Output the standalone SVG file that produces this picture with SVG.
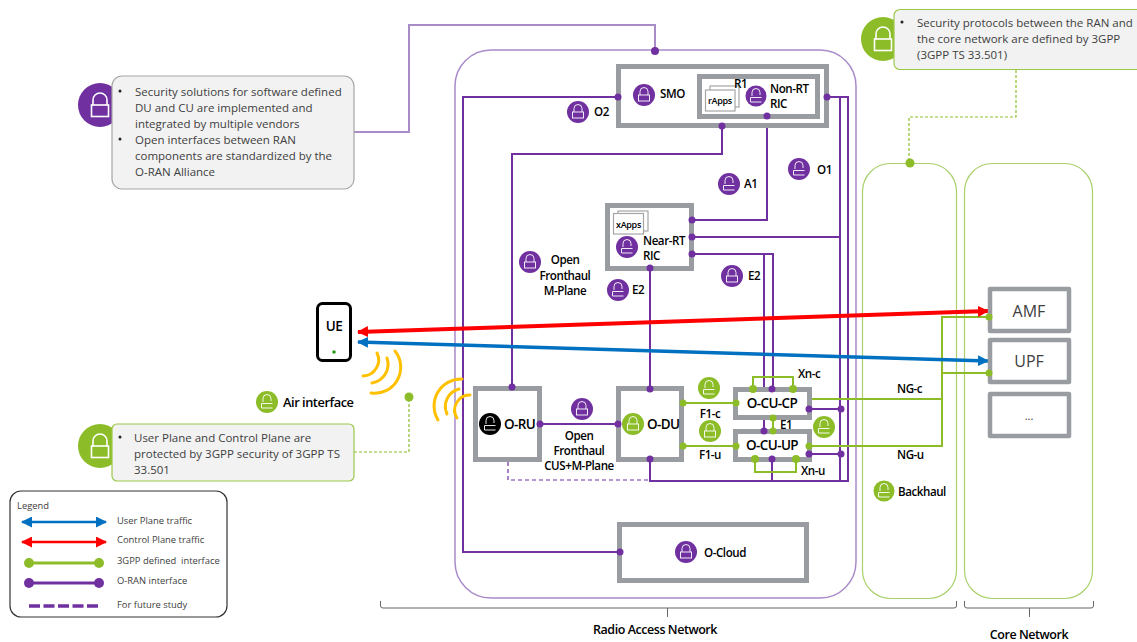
<svg xmlns="http://www.w3.org/2000/svg" width="1137" height="642" viewBox="0 0 1137 642">
<style>
text{font-family:"Open Sans","Noto Sans","Liberation Sans",sans-serif;fill:#000}
.lb{font-size:11.6px;font-weight:600;letter-spacing:-.45px}
.ce{text-anchor:middle}
.n{font-size:13.5px;font-weight:600;letter-spacing:-.6px}
.call{font-size:11.5px;fill:#404040}
.leg{font-size:9.4px;fill:#404040;white-space:pre}
.core{font-size:16px;fill:#404040;text-anchor:middle}
.box{fill:#fff;stroke:#999da1;stroke-width:5}
.core-box{fill:#fff;stroke:#999da1;stroke-width:4.5;stroke-linejoin:round}
.app{fill:#fff;stroke:#a6a6a6;stroke-width:1.2}
.p{fill:none;stroke:#7030a0;stroke-width:2}
.g{fill:none;stroke:#8cbd28;stroke-width:2}
.pd{fill:#7030a0}
.gd{fill:#8cbd28}
.dg{fill:none;stroke:#8cbd28;stroke-width:1.2;stroke-dasharray:3 2}
.w{fill:none;stroke:#ffc000;stroke-width:3;stroke-linecap:round}
.lk{fill:none;stroke:#fff;stroke-width:.9}
.lkb{fill:none;stroke:#fff;stroke-width:1.6}
</style>
<defs>
<marker id="ar" markerWidth="11" markerHeight="11" refX="10" refY="5.500" orient="auto-start-reverse" markerUnits="userSpaceOnUse"><path d="M0 0L11 5.500L0 11Z" fill="#ff0000"/></marker>
<marker id="ab" markerWidth="11" markerHeight="11" refX="10" refY="5.500" orient="auto-start-reverse" markerUnits="userSpaceOnUse"><path d="M0 0L11 5.500L0 11Z" fill="#0070c0"/></marker>
<g id="lock"><path class="lk" d="M-4 0V-3.500A4 4 0 0 1 4 -3.500V0"/><rect class="lk" x="-5.500" y="0" width="11" height="6"/></g>
<g id="lockopen"><path class="lk" d="M-4 0V-3.500A4 4 0 0 1 4 -3.500V-1"/><path class="lk" d="M-5.500 1.500V6H5.500"/><path class="lk" d="M-5.500 1.500H5.500"/></g>
<g id="biglock"><path class="lkb" d="M-7 0V-5A7 7 0 0 1 7 -5V0"/><rect class="lkb" x="-8.500" y="0" width="17" height="11.500"/></g>
</defs>

<g id="ran-region"><rect x="455" y="50" width="401" height="548" rx="36" fill="none" stroke="#a98bc9" stroke-width="1.5"/></g>
<g id="backhaul-region"><rect x="862.500" y="163.500" width="94" height="435" rx="28" fill="none" stroke="#a9d06a" stroke-width="1.2"/></g>
<g id="core-region"><rect x="964.500" y="163.500" width="128" height="435" rx="28" fill="none" stroke="#a9d06a" stroke-width="1.2"/></g>

<g id="connectors">
<path class="p" style="stroke:#a98bc9" d="M354 132H409V25H655V50"/>
<path class="p" d="M618 97H463V552H620"/>
<path class="p" d="M722 126V154H512V387"/>
<path class="p" d="M767 116V220H692"/>
<path class="p" d="M827 97H848V481H650V459"/>
<path class="p" d="M840 97V481"/>
<path class="p" d="M692 237H840"/>
<path class="p" d="M692 254H773V389"/>
<path class="p" d="M764 254V431"/>
<path class="p" d="M650 268V389"/>
<path class="p" d="M540 424H618"/>
<path class="p" d="M772 459V481"/>
<path class="p" d="M809 409H841"/>
<path class="p" d="M809 454H841"/>
<path class="p" style="stroke-width:1.2;stroke-dasharray:4 3" d="M508 462V480H648"/>
<path class="g" d="M683 403H736"/>
<path class="g" d="M683 446H736"/>
<path class="g" d="M753 389V377H793V389"/>
<path class="g" d="M755 459V472H796V459"/>
<path class="g" d="M773 418V431"/>
<path class="g" d="M809 399H942V317H989"/>
<path class="g" d="M809 446H942V373"/>
<path class="g" d="M942 373H989"/>
<path class="dg" d="M354 452H409V397"/>
<path class="dg" d="M1016 70V117H909V163"/>
<line x1="358" y1="331.900" x2="988" y2="311.100" stroke="#ff0000" stroke-width="4" marker-start="url(#ar)" marker-end="url(#ar)"/>
<line x1="358" y1="342" x2="988" y2="361" stroke="#0070c0" stroke-width="3.500" marker-start="url(#ab)" marker-end="url(#ab)"/>
</g>

<g id="wireless">
<path class="w" d="M377 353A16 16 0 0 1 363 376"/>
<path class="w" d="M387 358A19 19 0 0 1 372 383"/>
<path class="w" d="M395 351A26 26 0 0 1 371 393"/>
<path class="w" d="M462 379A27 27 0 0 0 438 420"/>
<path class="w" d="M459 389A18 18 0 0 0 447 414"/>
<path class="w" d="M470 395A15 15 0 0 0 457 418"/>
</g>

<g id="callout-sw">
<circle cx="100" cy="105" r="22" fill="#7030a0"/><use href="#biglock" x="100" y="105"/>
<rect x="112" y="76" width="242" height="113" rx="10" fill="#f2f2f2" stroke="#a6a6a6" stroke-width="1.2"/>
<circle cx="120" cy="91" r="1.500" fill="#222"/><circle cx="120" cy="139" r="1.500" fill="#222"/>
<text class="call" x="135" y="96">Security solutions for software defined</text>
<text class="call" x="135" y="112">DU and CU are implemented and</text>
<text class="call" x="135" y="128">integrated by multiple vendors</text>
<text class="call" x="135" y="144">Open interfaces between RAN</text>
<text class="call" x="135" y="160">components are standardized by the</text>
<text class="call" x="135" y="176">O-RAN Alliance</text>
</g>
<g id="callout-core">
<circle cx="883" cy="39" r="22" fill="#8cbd28"/><use href="#biglock" x="883" y="39"/>
<rect x="894" y="9.500" width="250" height="60" rx="6" fill="#f2f2f2" stroke="#9cc84a" stroke-width="1.2"/>
<circle cx="902" cy="22" r="1.500" fill="#222"/>
<text class="call" x="917" y="27">Security protocols between the RAN and</text>
<text class="call" x="917" y="43">the core network are defined by 3GPP</text>
<text class="call" x="917" y="59">(3GPP TS 33.501)</text>
</g>
<g id="callout-air">
<circle cx="100" cy="446" r="22" fill="#8cbd28"/><use href="#biglock" x="100" y="446"/>
<rect x="112" y="424" width="242" height="57" rx="5" fill="#f2f2f2" stroke="#9cc84a" stroke-width="1.2"/>
<circle cx="120" cy="437" r="1.500" fill="#222"/>
<text class="call" x="134" y="442">User Plane and Control Plane are</text>
<text class="call" x="134" y="458">protected by 3GPP security of 3GPP TS</text>
<text class="call" x="134" y="474">33.501</text>
</g>

<g id="smo">
<rect class="box" x="618.500" y="66.500" width="208" height="59"/>
<circle class="pd" cx="644" cy="95" r="11"/><use href="#lock" x="644" y="95"/>
<text class="lb" x="660" y="98">SMO</text>
</g>
<g id="non-rt-ric">
<rect class="box" x="699.500" y="76.500" width="118" height="40"/>
<rect class="app" x="710" y="86" width="29" height="21"/>
<rect class="app" x="705.500" y="90" width="29.500" height="21"/>
<text class="ce" x="720" y="104" style="font-size:9px;font-weight:600;letter-spacing:-.3px">rApps</text>
<text class="lb" x="734" y="88">R1</text>
<circle class="pd" cx="756" cy="96" r="10.500"/><use href="#lockopen" x="756" y="96"/>
<text class="lb" x="770" y="93">Non-RT</text><text class="lb" x="770" y="108">RIC</text>
</g>
<g id="near-rt-ric">
<rect class="box" x="607.500" y="205.500" width="84" height="63"/>
<rect class="app" x="618" y="211" width="30" height="20"/>
<rect class="app" x="613.500" y="213.500" width="30" height="20.500"/>
<text class="ce" x="628.500" y="228" style="font-size:9px;font-weight:600;letter-spacing:-.3px">xApps</text>
<circle class="pd" cx="627" cy="247" r="11"/><use href="#lockopen" x="627" y="247"/>
<text class="lb" x="643" y="245">Near-RT</text><text class="lb" x="643" y="260">RIC</text>
</g>
<g id="o-ru">
<rect class="box" x="475.500" y="388.500" width="64" height="71"/>
<circle cx="490" cy="424" r="11" fill="#000"/><use href="#lockopen" x="490" y="424"/>
<text class="n" x="504" y="429">O-RU</text>
</g>
<g id="o-du">
<rect class="box" x="618.500" y="388.500" width="63" height="71"/>
<circle class="gd" cx="633" cy="424" r="11"/><use href="#lock" x="633" y="424"/>
<text class="n" x="647" y="429">O-DU</text>
</g>
<g id="o-cu-cp">
<rect class="box" x="735.500" y="389.500" width="74" height="28"/>
<text class="n ce" x="772" y="408">O-CU-CP</text>
</g>
<g id="o-cu-up">
<rect class="box" x="735.500" y="431.500" width="74" height="28"/>
<text class="n ce" x="772" y="450">O-CU-UP</text>
</g>
<g id="o-cloud">
<rect class="box" x="619.500" y="524.500" width="187" height="56"/>
<circle class="pd" cx="686" cy="552" r="11"/><use href="#lock" x="686" y="552"/>
<text class="lb" x="704" y="557">O-Cloud</text>
</g>
<g id="amf"><rect class="core-box" x="990" y="289" width="79" height="42"/><text class="core" x="1029" y="317">AMF</text></g>
<g id="upf"><rect class="core-box" x="990" y="340" width="79" height="42"/><text class="core" x="1029" y="367">UPF</text></g>
<g id="other-nf"><rect class="core-box" x="990" y="394" width="79" height="42"/><text class="ce" x="1029" y="420" style="font-size:11px;fill:#404040">...</text></g>
<g id="ue">
<rect x="317.500" y="303.500" width="33" height="57" rx="5" fill="#fff" stroke="#000" stroke-width="3"/>
<text class="n ce" x="334" y="331">UE</text>
<circle cx="334" cy="352" r="1.800" fill="#2e9a1c"/>
</g>

<g id="connector-ends">
<g class="pd">
<circle cx="655" cy="51" r="4"/><circle cx="618" cy="97" r="3.500"/><circle cx="620" cy="552" r="3.500"/>
<circle cx="722" cy="126" r="3.500"/><circle cx="512" cy="387" r="3.500"/><circle cx="767" cy="116" r="3.500"/>
<circle cx="692" cy="220" r="3.500"/><circle cx="827" cy="97" r="3.500"/><circle cx="692" cy="237" r="3.500"/>
<circle cx="692" cy="254" r="3.500"/><circle cx="772" cy="389" r="3.500"/><circle cx="764" cy="431" r="3.500"/>
<circle cx="650" cy="268" r="3.500"/><circle cx="650" cy="389" r="3.500"/><circle cx="540" cy="424" r="3.500"/>
<circle cx="618" cy="424" r="3.500"/><circle cx="650" cy="459" r="3.500"/><circle cx="772" cy="459" r="3.500"/>
<circle cx="809" cy="409" r="3.500"/><circle cx="841" cy="409" r="3.500"/><circle cx="809" cy="454" r="3.500"/><circle cx="841" cy="454" r="3.500"/>
</g>
<g class="gd">
<circle cx="683" cy="403" r="3.500"/><circle cx="736" cy="403" r="3.500"/><circle cx="683" cy="446" r="3.500"/><circle cx="736" cy="446" r="3.500"/>
<circle cx="753" cy="389" r="4"/><circle cx="793" cy="389" r="4"/><circle cx="755" cy="459" r="4"/><circle cx="796" cy="459" r="4"/>
<circle cx="773" cy="418" r="3.500"/><circle cx="773" cy="431" r="3.500"/><circle cx="809" cy="446" r="3.500"/>
<circle cx="989" cy="317" r="3.500"/><circle cx="989" cy="373" r="3.500"/>
<circle cx="409" cy="397" r="4.500"/><circle cx="910" cy="163" r="4.500"/>
</g>
</g>

<g id="interface-labels">
<circle class="pd" cx="578" cy="112" r="11"/><use href="#lock" x="578" y="112"/><text class="lb" x="594" y="116">O2</text>
<circle class="pd" cx="729" cy="184" r="11"/><use href="#lockopen" x="729" y="184"/><text class="lb" x="744" y="188">A1</text>
<circle class="pd" cx="799" cy="169" r="11"/><use href="#lockopen" x="799" y="169"/><text class="lb" x="817" y="174">O1</text>
<circle class="pd" cx="530" cy="262" r="11"/><use href="#lock" x="530" y="262"/>
<text class="lb ce" x="565" y="264">Open</text><text class="lb ce" x="565" y="280">Fronthaul</text><text class="lb ce" x="565" y="295">M-Plane</text>
<circle class="pd" cx="618" cy="290" r="11"/><use href="#lockopen" x="618" y="290"/><text class="lb" x="632" y="294">E2</text>
<circle class="pd" cx="732" cy="276" r="11"/><use href="#lock" x="732" y="276"/><text class="lb" x="748" y="280">E2</text>
<circle class="pd" cx="582" cy="409" r="11"/><use href="#lock" x="582" y="409"/>
<text class="lb ce" x="579" y="440">Open</text><text class="lb ce" x="579" y="455">Fronthaul</text><text class="lb ce" x="579" y="470">CUS+M-Plane</text>
<circle class="gd" cx="709" cy="388" r="11"/><use href="#lockopen" x="709" y="388"/><text class="lb ce" x="710" y="418">F1-c</text>
<circle class="gd" cx="710" cy="431" r="11"/><use href="#lock" x="710" y="431"/><text class="lb ce" x="710" y="459">F1-u</text>
<text class="lb" x="780" y="429">E1</text>
<circle class="gd" cx="824" cy="427" r="11"/><use href="#lockopen" x="824" y="427"/>
<text class="lb" x="798" y="378">Xn-c</text><text class="lb" x="801" y="475">Xn-u</text>
<text class="lb" x="897" y="393">NG-c</text><text class="lb" x="897" y="459">NG-u</text>
<circle class="gd" cx="884" cy="491" r="10.500"/><use href="#lockopen" x="884" y="491"/><text class="lb" x="898" y="496">Backhaul</text>
<circle class="gd" cx="267" cy="402" r="11"/><use href="#lockopen" x="267" y="402"/><text class="lb" x="283" y="407" style="font-size:12.800px">Air interface</text>
</g>

<g id="brackets" fill="none" stroke="#666" stroke-width="1">
<path d="M380.500 601V606Q380.500 608 383 608H954Q956.500 608 956.500 606V601M667.500 608V617"/>
<path d="M964.500 601V606Q964.500 608 967 608H1091Q1093.500 608 1093.500 606V601M1029.500 608V617"/>
</g>
<text class="lb ce" x="655" y="634" style="font-size:12.500px">Radio Access Network</text>
<text class="lb ce" x="1029" y="639" style="font-size:12.500px">Core Network</text>

<g id="legend">
<rect x="10" y="491" width="217" height="126" rx="11" fill="#fff" stroke="#333" stroke-width="1.2"/>
<text class="leg" x="17" y="509">Legend</text>
<line x1="22" y1="522" x2="106" y2="522" stroke="#0070c0" stroke-width="2.500" marker-start="url(#ab)" marker-end="url(#ab)"/>
<line x1="22" y1="542" x2="106" y2="542" stroke="#ff0000" stroke-width="2.500" marker-start="url(#ar)" marker-end="url(#ar)"/>
<line x1="29" y1="563" x2="99" y2="563" stroke="#8cbd28" stroke-width="3"/><circle class="gd" cx="29" cy="563" r="5"/><circle class="gd" cx="99" cy="563" r="5"/>
<line x1="29" y1="583" x2="99" y2="583" stroke="#7030a0" stroke-width="3"/><circle class="pd" cx="29" cy="583" r="5"/><circle class="pd" cx="99" cy="583" r="5"/>
<line x1="29" y1="606" x2="99" y2="606" stroke="#7030a0" stroke-width="3.500" stroke-dasharray="11 3.500"/>
<text class="leg" x="117" y="524">User Plane traffic</text>
<text class="leg" x="117" y="543">Control Plane traffic</text>
<text class="leg" x="117" y="564">3GPP defined  interface</text>
<text class="leg" x="117" y="584">O-RAN interface</text>
<text class="leg" x="117" y="608">For future study</text>
</g>
</svg>
